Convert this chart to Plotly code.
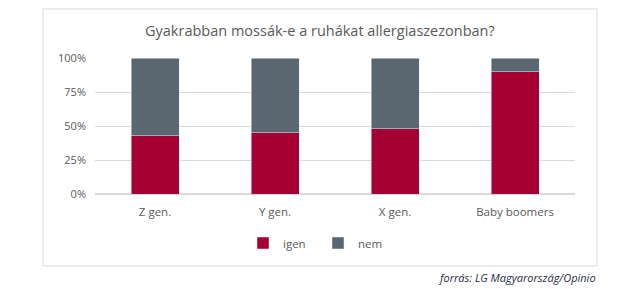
import plotly.graph_objects as go

categories = ["Z gen.", "Y gen.", "X gen.", "Baby boomers"]
igen = [0.43, 0.45, 0.48, 0.90]
nem = [0.57, 0.55, 0.52, 0.10]
tick_vals = [0, 0.25, 0.5, 0.75, 1.0]
tick_text = ["0%", "25%", "50%", "75%", "100%"]

RED = "#A50034"
GRAY = "#5B6770"
TXT = "#595959"
FONT = "Open Sans"

fig = go.Figure()
fig.add_trace(go.Bar(name="igen", x=categories, y=igen, marker_color=RED, width=0.4))
fig.add_trace(go.Bar(name="nem", x=categories, y=nem, marker_color=GRAY, width=0.4))

L, R, T, B = 95, 45, 58, 95
W, H = 620, 289
pw, ph = W - L - R, H - T - B

def px(x):
    return (x - L) / pw

def py(y):
    return (H - B - y) / ph

fig.update_layout(
    barmode="stack",
    width=W, height=H,
    margin=dict(l=L, r=R, t=T, b=B),
    paper_bgcolor="white", plot_bgcolor="white",
    font=dict(family=FONT, color=TXT, size=11),
    showlegend=True,
    legend=dict(orientation="h", x=px(318), xanchor="center", y=py(243), yanchor="middle",
                font=dict(size=11.5, color=TXT), itemwidth=30, traceorder="normal",
                entrywidth=30),
    xaxis=dict(showgrid=False, showline=False, ticks="", tickfont=dict(size=11.5, color=TXT),
               ticklabelstandoff=9),
    yaxis=dict(range=[0, 1], tickvals=tick_vals, ticktext=tick_text, showgrid=True,
               gridcolor="#d9d9d9", gridwidth=1, zeroline=True, zerolinecolor="#d9d9d9",
               ticks="", tickfont=dict(size=11, color=TXT), ticklabelstandoff=8),
)

fig.add_annotation(text="Gyakrabban mossák-e a ruhákat allergiaszezonban?", xref="paper", yref="paper",
                   x=px(320), y=py(30), showarrow=False, xanchor="center", yanchor="middle",
                   font=dict(size=14.5, color=TXT, family=FONT))
fig.add_annotation(text="<i>forrás: LG Magyarország/Opinio</i>", xref="paper", yref="paper",
                   x=px(598), y=py(277), showarrow=False, xanchor="right", yanchor="middle",
                   font=dict(size=11, color="#1f2a44", family=FONT))
fig.add_shape(type="rect", xref="paper", yref="paper", x0=px(43), x1=px(597), y0=py(266), y1=py(9),
              line=dict(color="#d9d9d9", width=1), layer="below")

fig.write_html("out.html")
